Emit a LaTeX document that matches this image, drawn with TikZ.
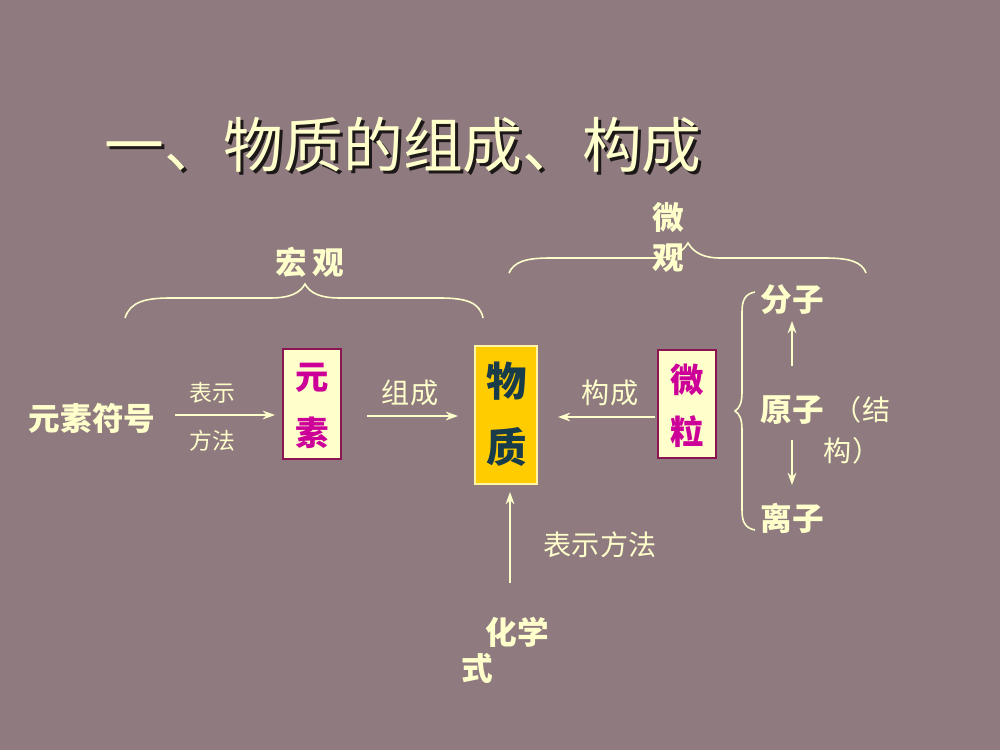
\documentclass[tikz,border=0pt]{standalone}
\usepackage{fontspec}
\newfontfamily\cjk{Noto Sans CJK SC}
\usetikzlibrary{arrows.meta}
\definecolor{bgc}{RGB}{142,122,127}
\definecolor{cream}{RGB}{255,255,204}
\definecolor{mag}{RGB}{204,0,153}
\definecolor{boxline}{RGB}{140,20,80}
\definecolor{gold}{RGB}{255,204,0}
\definecolor{teal}{RGB}{25,60,75}
\definecolor{shadowc}{RGB}{30,25,25}
\begin{document}
\begin{tikzpicture}[x=0.02cm,y=-0.02cm,
  txt/.style={text=cream,inner sep=0pt,font=\cjk},
  big/.style={txt,font=\cjk\bfseries\fontsize{18}{20}\selectfont},
  mid/.style={txt,font=\cjk\fontsize{16}{18}\selectfont},
  small/.style={txt,font=\cjk\fontsize{13}{15}\selectfont},
  arr/.style={draw=cream,line width=0.9pt,-{Stealth[length=7pt,width=5pt]}},
  brace/.style={draw=cream,line width=0.9pt},
  creambox/.style={draw=boxline,line width=1pt,fill=cream,minimum width=58*0.02cm,minimum height=110*0.02cm,inner sep=0pt},
  goldbox/.style={draw=cream!80!gold,line width=1pt,fill=gold,minimum width=62*0.02cm,minimum height=138*0.02cm,inner sep=0pt},
  boxtxt/.style={inner sep=0pt,font=\cjk\bfseries\fontsize{19}{21}\selectfont}
]
\useasboundingbox (0,0) rectangle (1000,750);
\fill[bgc] (0,0) rectangle (1000,750);

% title with shadow
\node[inner sep=0pt,text=shadowc,font=\cjk\fontsize{34}{38}\selectfont] (titleshadow) at (406,148) {一、物质的组成、构成};
\node[inner sep=0pt,text=cream,font=\cjk\fontsize{34}{38}\selectfont] (title) at (403,145) {一、物质的组成、构成};

% macro brace
\node[big] (hong) at (310,262) {宏\,观};
\draw[brace] (125,318) .. controls (130,302) and (145,298) .. (170,298)
  -- (270,298) .. controls (290,298) and (300,293) .. (305,284)
  .. controls (310,293) and (320,298) .. (340,298)
  -- (440,298) .. controls (465,298) and (480,302) .. (483,318);

% micro brace
\node[big] (wei1) at (668,218) {微};
\node[big] (guan1) at (668,258) {观};
\draw[brace] (509,273) .. controls (514,262) and (525,258) .. (550,258)
  -- (655,258) .. controls (672,258) and (682,253) .. (688,243)
  .. controls (694,253) and (704,258) .. (720,258)
  -- (825,258) .. controls (850,258) and (862,262) .. (866,273);

% left column
\node[big] (fuhao) at (92,418) {元素符号};
\node[small] (biaoshi1) at (212,393) {表示};
\node[small] (fangfa1) at (212,441) {方法};
\coordinate (a1s) at (175,415);
\coordinate (a1e) at (275,415);
\draw[arr] (a1s) -- (a1e);

\node[creambox] (yuansu) at (312,404) {};
\node[boxtxt,text=mag] (yuan) at (312,378) {元};
\node[boxtxt,text=mag] (su) at (312,433) {素};

\node[mid] (zucheng) at (410,393) {组成};
\coordinate (a2s) at (367,416);
\coordinate (a2e) at (458,416);
\draw[arr] (a2s) -- (a2e);

\node[goldbox] (wuzhi) at (506,415) {};
\node[boxtxt,text=teal,font=\cjk\bfseries\fontsize{23}{25}\selectfont] (wu) at (507,381) {物};
\node[boxtxt,text=teal,font=\cjk\bfseries\fontsize{23}{25}\selectfont] (zhi) at (507,447) {质};

\node[mid] (goucheng) at (610,393) {构成};
\coordinate (a3s) at (655,417);
\coordinate (a3e) at (558,417);
\draw[arr] (a3s) -- (a3e);

\node[creambox,minimum height=108*0.02cm] (weili) at (687,404) {};
\node[boxtxt,text=mag] (wei2) at (687,380) {微};
\node[boxtxt,text=mag] (li) at (687,432) {粒};

% right column
\draw[brace] (755,292) .. controls (745,294) and (742,300) .. (742,312)
  -- (742,392) .. controls (742,402) and (740,408) .. (735,411)
  .. controls (740,414) and (742,420) .. (742,430)
  -- (742,510) .. controls (742,522) and (745,528) .. (755,530);

\node[big] (fenzi) at (792,300) {分子};
\node[big] (yuanzi) at (792,410) {原子};
\node[mid] (jie) at (862,410) {（结};
\node[mid] (gou) at (852,451) {构）};
\node[big] (lizi) at (792,518) {离子};
\coordinate (a4s) at (792,366);
\coordinate (a4e) at (792,321);
\draw[arr] (a4s) -- (a4e);
\coordinate (a5s) at (792,440);
\coordinate (a5e) at (792,485);
\draw[arr] (a5s) -- (a5e);

% bottom
\node[mid] (biaoshi2) at (600,545) {表示方法};
\node[big] (huaxue) at (517,632) {化学};
\node[big] (shi) at (477,668) {式};
\coordinate (a6s) at (510,583);
\coordinate (a6e) at (510,492);
\draw[arr] (a6s) -- (a6e);
\end{tikzpicture}
\end{document}
